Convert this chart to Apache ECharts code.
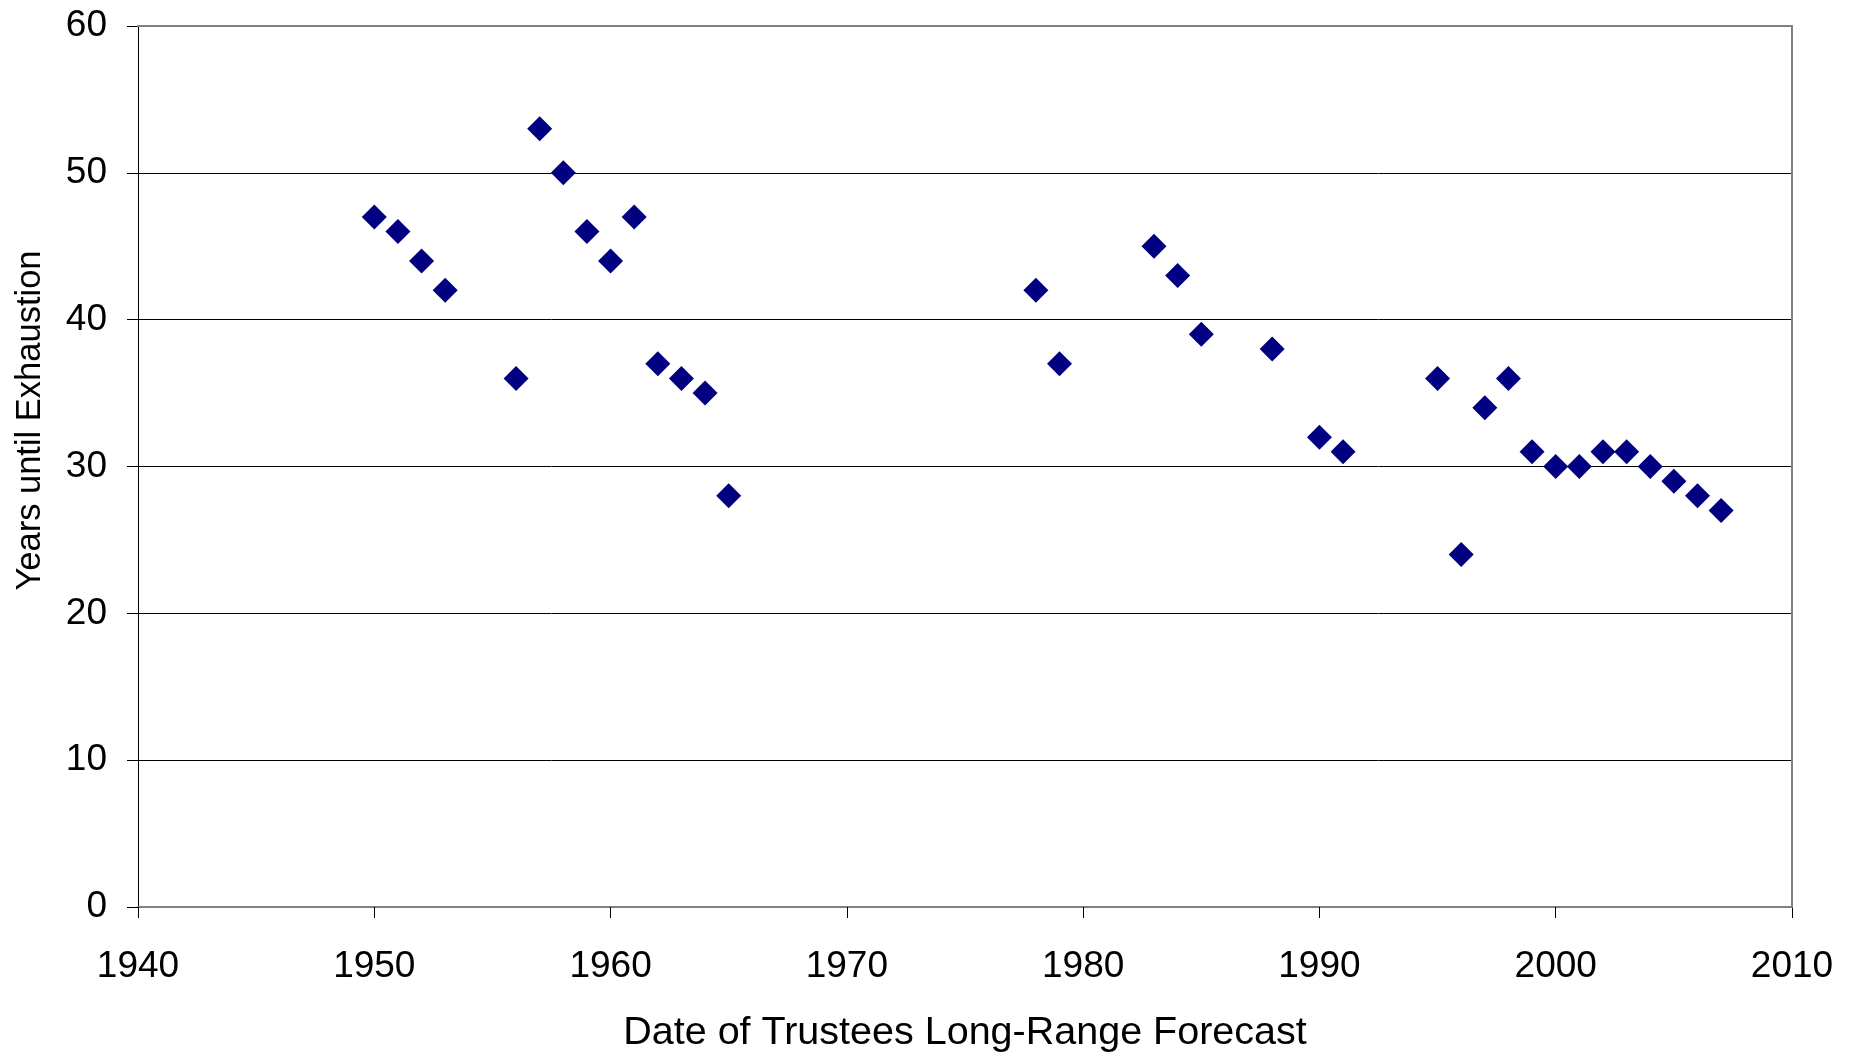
<!DOCTYPE html>
<html>
<head>
<meta charset="utf-8">
<script src="https://cdn.jsdelivr.net/npm/echarts@6/dist/echarts.min.js"></script>
<style>
html,body{margin:0;padding:0;background:#fff;overflow:hidden;}
#chart{width:1862px;height:1058px;}
</style>
</head>
<body>
<div id="chart"></div>
<script>
const forecastYears = [1950,1951,1952,1953,1956,1957,1958,1959,1960,1961,1962,1963,1964,1965,
  1978,1979,1983,1984,1985,1988,1990,1991,1995,1996,1997,1998,1999,2000,2001,2002,2003,2004,2005,2006,2007];
const yearsUntilExhaustion = [47,46,44,42,36,53,50,46,44,47,37,36,35,28,
  42,37,45,43,39,38,32,31,36,24,34,36,31,30,30,31,31,30,29,28,27];
const xTicks = {min:1940, max:2010, interval:10};
const yTicks = {min:0, max:60, interval:10};
const xTitle = 'Date of Trustees Long-Range Forecast';
const yTitle = 'Years until Exhaustion';

const points = forecastYears.map((y,i)=>[y, yearsUntilExhaustion[i]]);
const font = 'Liberation Sans, Arial, sans-serif';

const chart = echarts.init(document.getElementById('chart'));
chart.setOption({
  animation:false,
  backgroundColor:'#fff',
  grid:{left:138, right:70, top:26, height:887, containLabel:false},
  xAxis:[{
    type:'value', min:xTicks.min, max:xTicks.max, interval:xTicks.interval,
    name:xTitle, nameLocation:'middle', nameGap:106,
    nameTextStyle:{fontFamily:font, fontSize:39.5, color:'#000'},
    axisLine:{show:true, onZero:false, lineStyle:{color:'#808080', width:2}},
    axisTick:{show:true, length:11, lineStyle:{color:'#000', width:1}},
    axisLabel:{fontFamily:font, fontSize:37, color:'#000', margin:41, formatter:v=>String(v)},
    splitLine:{show:false}
  },{
    type:'value', position:'top', min:xTicks.min, max:xTicks.max, z:5,
    axisLine:{show:true, onZero:false, lineStyle:{color:'#808080', width:2}},
    axisTick:{show:false}, axisLabel:{show:false}, splitLine:{show:false}
  }],
  yAxis:[{
    type:'value', min:yTicks.min, max:yTicks.max, interval:yTicks.interval,
    name:yTitle, nameLocation:'middle', nameGap:90, nameRotate:90,
    nameTextStyle:{fontFamily:font, fontSize:34.5, color:'#000', padding:[0,0,0,92]},
    axisLine:{show:true, onZero:false, lineStyle:{color:'#000', width:1}},
    axisTick:{show:true, length:11, lineStyle:{color:'#000', width:1}},
    axisLabel:{fontFamily:font, fontSize:37, color:'#000', margin:31, formatter:v=>String(v)},
    splitLine:{show:true, lineStyle:{color:'#000', width:1}}
  },{
    type:'value', position:'right', min:yTicks.min, max:yTicks.max, z:5,
    axisLine:{show:true, onZero:false, lineStyle:{color:'#808080', width:2}},
    axisTick:{show:false}, axisLabel:{show:false}, splitLine:{show:false}
  }],
  series:[{
    type:'scatter', xAxisIndex:0, yAxisIndex:0,
    data:points, symbol:'diamond', symbolSize:25,
    itemStyle:{color:'#000080', opacity:1}, z:10
  }]
});
</script>
</body>
</html>
